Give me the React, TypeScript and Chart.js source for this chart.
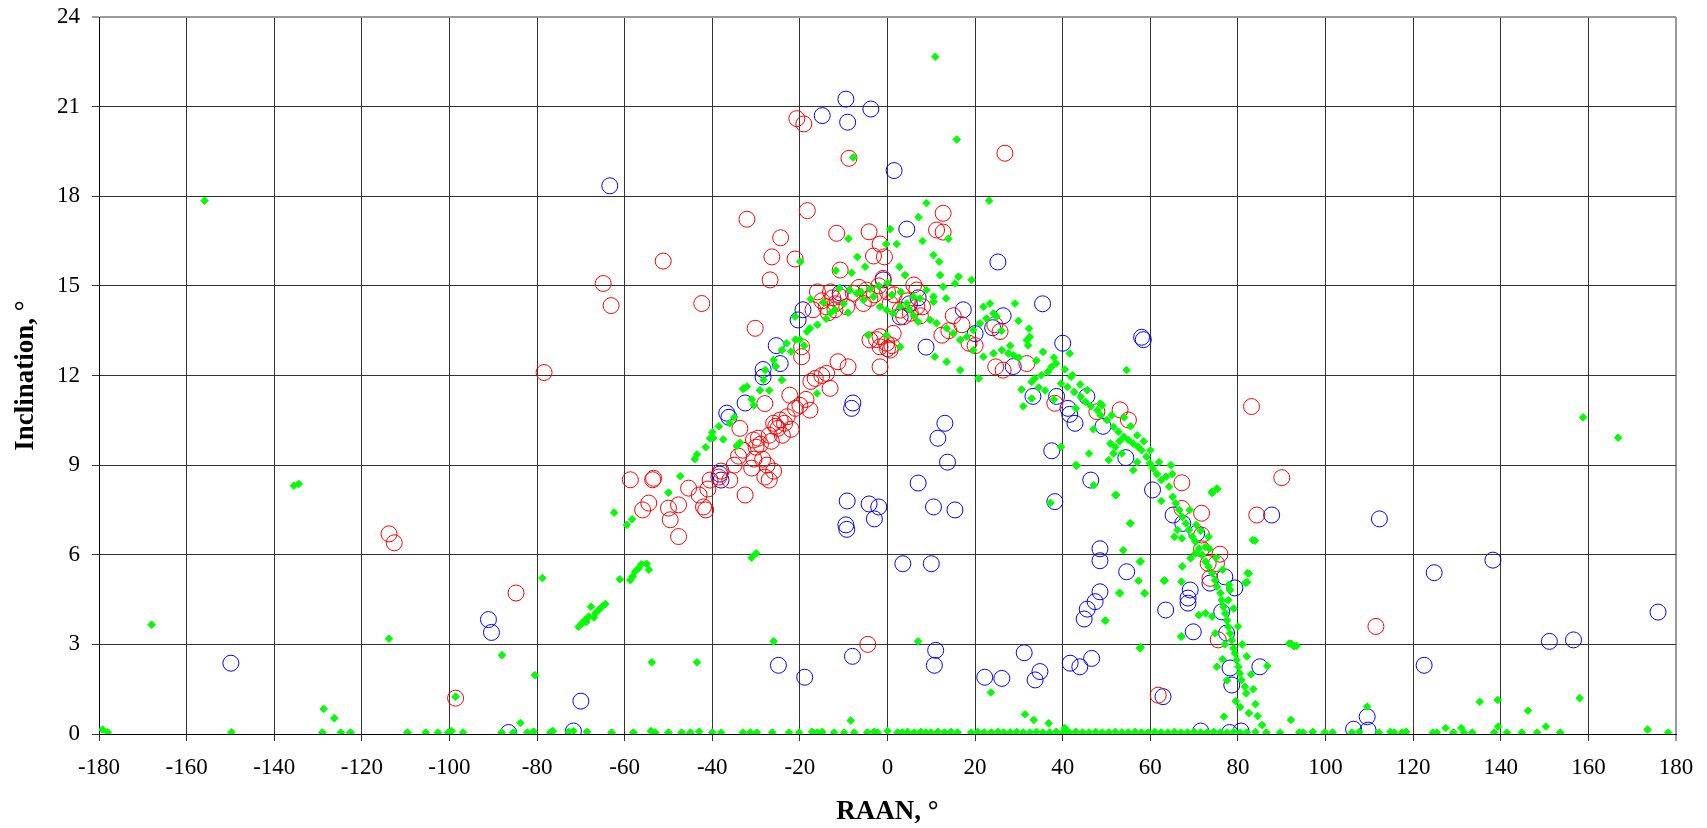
import React, { useEffect, useRef } from "react";
import { Chart, registerables } from "chart.js";

Chart.register(...registerables);

const xTickValues = [-180, -160, -140, -120, -100, -80, -60, -40, -20, 0, 20, 40, 60, 80, 100, 120, 140, 160, 180];
const yTickValues = [0, 3, 6, 9, 12, 15, 18, 21, 24];
const xTitle = "RAAN, °";
const yTitle = "Inclination, °";

const bluePoints: [number, number][] = [
  [-149.9, 2.37], [-91.1, 3.83], [-90.4, 3.4], [-86.5, 0.05], [-71.7, 0.1], [-70, 1.1], [-63.4, 18.35],
  [-36.7, 10.74], [-36.2, 10.6], [-32.5, 11.08], [-28.4, 12.2], [-28.4, 11.95], [-25.4, 13.0], [-24.5, 12.4],
  [-20.4, 13.86], [-19.3, 14.2], [-10.8, 14.76], [-7.9, 11.08], [-8.2, 10.9], [-38.3, 8.7], [-38, 8.5],
  [-9.5, 21.25], [-3.8, 20.92], [-14.9, 20.7], [-9.1, 20.48], [1.5, 18.86], [4.4, 16.9], [25.2, 15.8],
  [2.9, 13.96], [8.8, 12.95], [17.3, 14.2], [-1, 15.2], [5, 14.4], [7, 14.6], [20, 13.4], [26.4, 14.0], [24, 13.6],
  [13.1, 10.4], [11.5, 9.9], [13.7, 9.1], [7, 8.4], [10.5, 7.6], [15.4, 7.5], [-4.2, 7.7], [-2, 7.6], [-3, 7.2],
  [-9.2, 7.8], [-9.5, 7.0], [-9.3, 6.85], [3.5, 5.7], [10, 5.7], [11, 2.8], [10.7, 2.3], [-8, 2.6], [-18.9, 1.9],
  [-24.9, 2.3], [35.4, 14.4], [40, 13.08], [58, 13.28], [58.4, 13.2], [28.7, 12.3], [33.2, 11.3], [38.6, 11.3],
  [41.2, 10.9], [41.6, 10.7], [42.8, 10.4], [45.5, 11.3], [49.2, 10.3], [37.5, 9.48], [54.4, 9.25], [46.4, 8.5],
  [38.2, 7.78], [60.5, 8.17], [65.2, 7.33], [67.4, 7.05], [70.6, 6.72], [48.5, 6.2], [48.5, 5.8], [54.6, 5.43],
  [48.5, 4.76], [47.4, 4.43], [45.6, 4.18], [44.9, 3.85], [63.5, 4.15], [69.8, 3.42], [69.1, 4.82], [68.6, 4.55],
  [68.6, 4.38], [73.6, 5.05], [77, 5.26], [79.3, 4.89], [76.3, 4.09], [77.4, 3.38], [78.2, 2.21], [78.6, 1.64],
  [85, 2.25], [87.7, 7.33], [31.2, 2.72], [34.8, 2.09], [33.7, 1.81], [41.7, 2.37], [43.9, 2.25], [46.6, 2.53],
  [26.1, 1.86], [22.2, 1.9], [62.9, 1.25], [71.5, 0.1], [78.1, 0.05], [80.7, 0.1], [106.4, 0.16], [109.5, 0.58],
  [109.7, 0.13], [112.3, 7.2], [122.5, 2.3], [124.8, 5.4], [138.2, 5.82], [151.1, 3.1], [156.6, 3.15], [175.9, 4.08],
];

const redPoints: [number, number][] = [
  [-113.8, 6.7], [-112.6, 6.4], [-98.6, 1.2], [-84.8, 4.72], [-78.4, 12.1], [-64.9, 15.08], [-63.1, 14.34],
  [-51.2, 15.83], [-42.4, 14.41], [-32.1, 17.23], [-24.4, 16.61], [-26.4, 15.97], [-26.8, 15.2], [-21.1, 15.9],
  [-18.3, 17.52], [-11.6, 16.76], [-4.2, 16.81], [-1.7, 16.4], [-3.2, 16.0], [-0.7, 15.97], [-10.8, 15.53],
  [6, 15.03], [11.2, 16.87], [12.7, 16.8], [12.7, 17.43], [-8.8, 19.27], [-20.7, 20.6], [-19.1, 20.42], [26.8, 19.44],
  [-15, 14.5], [-14, 14.3], [-13, 14.8], [-12, 14.2], [-11.9, 14.4], [-10.8, 14.64], [-9.3, 14.3], [-7.8, 14.75],
  [-6.5, 14.95], [-5.5, 14.41], [-4.8, 14.86], [-4, 14.58], [-3, 14.7], [-2, 15.0], [-1, 15.25], [0, 14.8],
  [0.6, 14.41], [1.5, 14.7], [2.9, 14.19], [3.7, 13.97], [4.5, 14.5], [5.2, 14.08], [6.7, 14.3], [6.7, 14.86],
  [7.5, 14.0], [-1.7, 13.3], [-0.2, 13.08], [0.6, 12.85], [-1.7, 12.96], [1.3, 13.41], [-4, 13.19], [-2.5, 13.2],
  [0, 12.9], [1, 13.0], [-13.5, 14.1], [-12.5, 14.6],
  [-30.2, 13.58], [-19.6, 12.63], [-19.6, 12.96], [-11.3, 12.46], [-9, 12.29], [-1.7, 12.29], [-16.5, 11.9],
  [-13.9, 12.07], [-13.1, 11.57], [-22.3, 11.34], [-28, 11.06], [-17.7, 10.84], [-25, 10.23], [-24.5, 10.51],
  [-26, 10.4], [-22.9, 10.62], [-30.6, 9.84], [-33.7, 10.23], [-20, 11.0], [-18.6, 11.2], [-17.5, 11.8], [-15, 12.0],
  [-21, 10.9], [-22, 10.2], [-23.5, 10.4], [-24, 10.0], [-25.5, 10.3], [-26.5, 9.8], [-27, 10.0], [-27.5, 9.0],
  [-28, 8.6], [-28.5, 9.2], [-29, 9.7], [-29.5, 9.9], [-30, 9.6], [-30.5, 9.2], [-31, 8.9], [-32.5, 8.0],
  [-33, 9.5], [-34, 9.3], [-35, 9.0], [-36, 8.5], [-38, 8.8], [-38.5, 8.6], [-40.5, 8.5], [-41, 8.2], [-41.5, 7.5],
  [-42, 7.6], [-43, 8.0], [-45.4, 8.23], [-47.7, 7.67], [-47.7, 6.61], [-49.6, 7.17], [-50, 7.56], [-54.5, 7.73],
  [-55.9, 7.5], [-53.6, 8.51], [-53.4, 8.56], [-58.7, 8.51], [-26, 8.8], [-27, 8.5],
  [12.4, 13.35], [18.6, 13.08], [24.7, 12.29], [25.7, 13.47], [24.5, 13.7], [26.4, 12.18], [31.8, 12.4],
  [38.2, 11.07], [47.8, 10.79], [53.1, 10.85], [55, 10.51], [83.1, 10.96], [90, 8.58], [84.3, 7.33], [67.2, 8.41],
  [67.2, 7.55], [71.7, 7.39], [71.7, 6.66], [75.9, 6.02], [71.7, 6.2], [73.2, 5.71], [75.1, 5.71], [73.6, 5.21],
  [75.5, 3.15], [61.8, 1.3], [111.5, 3.6], [-4.5, 3.0], [15, 14.0], [17, 13.7], [14, 13.5], [20, 13.0], [8, 14.3],
  [-16, 14.8], [-17, 14.2],
];

const greenPoints: [number, number][] = [
  [-179.2, 0.15], [-178, 0.06], [-168, 3.66], [-155.9, 17.85], [-149.8, 0.06], [-135.5, 8.31], [-134.4, 8.37],
  [-128.7, 0.84], [-126.3, 0.53], [-129, 0.05], [-124.8, 0.05], [-122.6, 0.05], [-113.8, 3.19], [-109.6, 0.05],
  [-105.4, 0.05], [-102.6, 0.05], [-100.3, 0.05], [-99.5, 0.1], [-98.6, 1.25], [-96.9, 0.05], [-88, 2.64],
  [-88.1, 0.05], [-85.4, 0.05], [-83.8, 0.37], [-82.2, 0.05], [-80.8, 0.08], [-80.5, 1.97], [-78.8, 5.22],
  [-77, 0.05], [-76.4, 0.1], [-72.8, 0.07], [-71.7, 0.1], [-68.6, 0.07],
  [-70.5, 3.59], [-69.8, 3.7], [-69, 3.82], [-68.2, 3.93], [-67.7, 4.26], [-66.7, 4.04], [-65.9, 4.15],
  [-65.2, 4.26], [-64.4, 4.35], [-67, 3.9], [-68.8, 3.75], [-61.1, 5.18], [-58.7, 5.15], [-58.2, 5.27],
  [-57.6, 5.44], [-56.8, 5.55], [-56.2, 5.68], [-62.4, 7.41], [-59.5, 7.0], [-58.3, 7.19], [-53.8, 2.4],
  [-50, 8.08], [-47.3, 8.63], [-43.5, 9.36], [-43.5, 2.4],
  [-41.5, 9.6], [-40.5, 9.9], [-39.8, 9.91], [-37.5, 9.86], [-36, 10.4], [-34.4, 9.64], [-33.7, 9.75],
  [-33, 11.55], [-32.1, 11.63], [-32.9, 11.57], [-30.5, 11.0], [-29.1, 11.51], [-28.3, 11.85], [-27.9, 12.18],
  [-26, 12.52], [-24.1, 12.85], [-24.1, 11.85], [-23, 13.08], [-21, 13.2], [-18.4, 13.47], [-17.7, 13.58],
  [-16.1, 11.4], [-21.1, 13.97], [-17.5, 14.55], [-14.6, 14.44], [-13, 14.1], [-11, 14.92], [-8.6, 14.86],
  [-7, 14.75], [-5.5, 14.53], [-3.2, 14.64], [-1.7, 14.3], [-0.2, 14.19], [1.3, 14.08], [2.9, 14.3], [4.4, 14.41],
  [5.9, 14.64], [7.4, 14.58], [8.9, 14.86], [-31, 5.9], [-30, 6.05], [-26, 3.1], [-8.4, 0.45],
  [-7.8, 19.3], [10.9, 22.67], [15.8, 19.9], [23.2, 17.85], [8.9, 17.77], [7.1, 17.3], [0.6, 16.9], [2.1, 16.4],
  [-0.3, 16.4], [8, 16.5], [13.9, 16.58], [-8.9, 16.58], [-6.9, 15.97], [-5.1, 15.64], [-11.8, 15.51],
  [-8.2, 15.44], [10.5, 16.03], [11.8, 15.81], [12, 15.36], [16.2, 15.31], [19.2, 15.2], [15.4, 15.08], [4, 15.36],
  [2.7, 15.64], [12.7, 14.97], [10.5, 14.64], [13.4, 14.58], [10.5, 14.47], [-19.9, 15.81],
  [9.7, 13.86], [11.2, 13.75], [13.5, 13.58], [15, 13.41], [16.6, 13.19], [18.1, 13.3], [19.6, 13.52],
  [21.1, 13.75], [22.6, 13.91], [24.2, 14.08], [21.9, 14.3], [23.4, 14.41], [24.9, 13.97], [19.6, 12.85],
  [21.9, 12.63], [24.2, 12.74], [16.6, 12.18], [20.8, 11.9], [10.8, 12.63], [13.5, 12.46], [2.9, 12.96],
  [-0.2, 13.35], [-4.4, 13.35],
  [29.1, 14.41], [29.9, 13.83], [32.3, 13.57], [32.5, 13.29], [31.8, 13.18], [32.1, 13.01], [26.1, 12.85],
  [27.6, 12.74], [28.8, 12.68], [35.5, 12.79], [41.6, 12.74], [42.2, 12.01], [38.5, 12.4], [37.4, 12.29],
  [36.6, 12.12], [35.1, 12.01], [33.6, 11.9], [32.9, 11.79], [30.6, 11.53], [32.9, 11.23], [31, 10.97],
  [39.6, 11.73], [41.1, 11.62], [42.6, 11.45], [44.1, 11.29], [45.2, 11.12], [46.4, 10.97], [47.9, 10.84],
  [48.6, 10.67], [50.1, 10.51], [51.6, 10.28], [52.7, 10.12], [53.9, 9.95], [55, 9.84], [56.1, 9.72], [57.2, 9.61],
  [58, 9.5], [59.1, 9.28], [59.9, 9.06], [60.6, 8.89], [41.9, 11.96], [45.6, 11.51], [48.6, 11.06], [51.2, 10.67],
  [39.6, 9.61], [46, 9.39], [50.5, 9.17], [43, 9.0], [54.6, 12.18], [52, 9.61], [53.5, 9.39], [56.1, 8.83],
  [50.9, 9.72], [51.6, 9.39], [64.7, 9.0],
  [63.6, 8.61], [64.3, 8.28], [65.1, 7.94], [65.8, 7.72], [66.6, 7.5], [67.3, 7.27], [68.1, 7.05], [68.8, 6.83],
  [69.6, 6.6], [70.3, 6.44], [71.1, 6.21], [71.8, 5.99], [72.6, 5.77], [73.3, 5.6], [74.1, 5.38], [74.8, 5.15],
  [75.2, 4.93], [76, 4.71], [76.3, 4.48], [76.7, 4.26], [77.1, 4.04], [77.5, 3.81], [77.8, 3.59], [78.2, 3.37],
  [78.6, 3.14], [79, 2.87], [79.3, 2.7], [79.7, 2.48], [80.1, 2.25], [80.4, 2.03], [80.8, 1.81], [81.6, 1.58],
  [81.9, 1.36], [67.2, 6.55], [66.2, 6.83], [65.5, 6.6], [74.1, 8.11], [75.2, 8.22], [83.4, 6.49], [82.2, 5.38],
  [81.7, 5.06], [73.3, 6.6], [72.6, 6.27], [69.2, 5.88], [70.3, 6.04], [71.1, 3.98], [72.6, 4.04], [67, 3.26],
  [78.2, 4.82], [77.8, 4.48], [74.1, 3.93], [74.8, 3.37], [75.2, 2.25], [86.7, 2.28], [91.7, 3.03], [92.8, 2.94],
  [57.6, 2.87], [67.1, 5.1], [63.1, 5.13], [58.7, 4.71], [57.6, 5.77], [55.4, 7.05], [52.2, 8.0], [49.7, 3.79],
  [53.1, 4.71], [47.1, 8.33], [43.2, 8.98], [37.2, 7.74],
  [61.5, 8.7], [62.5, 8.5], [62, 9.1], [58.5, 9.8], [57, 10.0], [55.5, 10.3], [54, 10.6], [49, 11.0], [44, 11.7],
  [40.5, 12.2], [38, 12.6], [34, 12.5], [30, 12.6], [28, 13.0], [26, 13.5], [36, 11.5], [38, 11.2], [34.5, 11.6],
  [43, 10.9], [47, 10.2], [53, 9.8], [60, 9.5], [57, 9.1], [62.5, 7.8], [65, 8.7], [69, 7.5], [70.5, 7.0],
  [71.5, 6.8], [73.5, 6.2], [75, 5.9], [76.5, 5.5], [78, 5.0], [79, 4.2], [80, 3.6], [81, 3.0], [82, 2.6],
  [83, 2.0], [83.5, 1.5], [84, 1.0], [82.5, 0.7], [84.5, 0.6], [85.5, 0.3], [80.5, 0.9], [79.5, 1.1], [77.5, 1.8],
  [76.5, 2.5], [77, 3.0],
  [-55, 5.7], [-54.5, 5.5], [-44, 9.2], [-40, 10.1], [-38.5, 10.3], [-35, 10.6], [-31, 11.2], [-27, 11.5],
  [-25.5, 12.3], [-22, 12.8], [-20, 13.2], [-19, 13.0], [-16, 13.7], [-14, 13.9], [-12, 14.2], [-10, 14.4],
  [-9, 14.1], [-6, 14.8], [-4, 14.9], [-2, 15.0], [0, 15.1], [1, 14.7], [3, 14.8], [5, 14.2], [6, 14.0], [7, 13.8],
  [7, 3.1], [23.6, 1.39], [31.4, 0.66], [33.4, 0.47], [36.8, 0.36], [40.5, 0.2],
  [76.8, 0.58], [75.3, 8.2], [74.1, 8.07], [83.9, 6.47], [82.5, 5.37], [82.1, 5.08], [52, 8.0], [55.4, 7.05],
  [53.8, 6.15], [57.8, 5.78], [57.3, 5.13], [52.9, 4.72], [58.7, 4.72], [49.7, 3.8], [63.3, 5.14], [67.3, 5.61],
  [57.8, 2.9], [67.1, 3.27], [93.4, 2.95], [92.1, 3.02],
  [-63, 0.05], [-58, 0.05], [-54, 0.1], [-53, 0.05], [-50, 0.05], [-47, 0.05], [-45, 0.05], [-43, 0.08],
  [-40, 0.05], [-38, 0.05], [-33, 0.05], [-31.3, 0.05], [-29.8, 0.05], [-26.3, 0.05], [-22.5, 0.05],
  [-20.2, 0.05], [-17.2, 0.07], [-16, 0.05], [-14.9, 0.07], [-12.2, 0.05], [-9.9, 0.05], [-7.6, 0.05],
  [-4.6, 0.05], [-3.1, 0.07], [-2.3, 0.05], [0, 0.1], [2.3, 0.05], [3.4, 0.05], [4.6, 0.07], [6.1, 0.05],
  [7.6, 0.07], [8.8, 0.05], [9.9, 0.05], [11.5, 0.07], [13, 0.05], [14.5, 0.07], [16, 0.05], [19.1, 0.05],
  [20.6, 0.07], [22.1, 0.05], [23.7, 0.05], [25.2, 0.07], [26.5, 0.05], [28, 0.05], [29.5, 0.07], [31, 0.05],
  [32.5, 0.05], [34, 0.07], [35.5, 0.05], [37, 0.05], [38.5, 0.07], [40, 0.05], [41.5, 0.05], [43, 0.07],
  [44.5, 0.05], [46, 0.05], [47.5, 0.07], [49, 0.05], [50.5, 0.05], [52, 0.07], [53.5, 0.05], [55, 0.05],
  [56.5, 0.07], [58, 0.05], [59.5, 0.05], [61, 0.07], [62.5, 0.05], [64, 0.05], [65.5, 0.07], [67, 0.05],
  [68.5, 0.05], [70, 0.07], [71.5, 0.05], [73, 0.05], [74.5, 0.07], [76, 0.05], [77.5, 0.05], [79, 0.07],
  [80.5, 0.05], [82, 0.05], [84, 0.07], [86.5, 0.05], [89.6, 0.05], [92.1, 0.47], [94, 0.05], [94.9, 0.05],
  [97.1, 0.07], [99.8, 0.05], [101.6, 0.05], [106, 0.05], [107.7, 0.07], [109.5, 0.92], [112.2, 0.05],
  [114.8, 0.07], [115.7, 0.05], [117.5, 0.05], [118.4, 0.07], [124.5, 0.05], [125.4, 0.05], [127.4, 0.2],
  [129.2, 0.05], [131, 0.2], [131.6, 0.05], [133.5, 0.05], [135.2, 1.08], [138.5, 0.05], [139.3, 1.14],
  [139.4, 0.25], [141.4, 0.05], [144.8, 0.05], [146.2, 0.78], [148.3, 0.05], [150.3, 0.25], [153.6, 0.05],
  [158, 1.2], [158.8, 10.6], [166.8, 9.92], [173.5, 0.15], [178.2, 0.05],
];

const toXY = (pts: [number, number][]) => pts.map(([x, y]) => ({ x, y }));

const SERIF = "'Liberation Serif', 'Times New Roman', serif";

export default function App() {
  const canvasRef = useRef<HTMLCanvasElement | null>(null);

  useEffect(() => {
    document.body.style.margin = "0";
    const canvas = canvasRef.current;
    if (!canvas) return;
    const chart = new Chart(canvas, {
      type: "scatter",
      data: {
        datasets: [
          {
            label: "green",
            data: toXY(greenPoints),
            pointStyle: "rectRot",
            pointRadius: 3.8,
            backgroundColor: "#00ff00",
            borderColor: "#00ff00",
            borderWidth: 1,
          },
          {
            label: "red",
            data: toXY(redPoints),
            pointStyle: "circle",
            pointRadius: 8,
            backgroundColor: "rgba(0,0,0,0)",
            borderColor: "#ff0000",
            borderWidth: 1,
          },
          {
            label: "blue",
            data: toXY(bluePoints),
            pointStyle: "circle",
            pointRadius: 8,
            backgroundColor: "rgba(0,0,0,0)",
            borderColor: "#0000ff",
            borderWidth: 1,
          },
        ],
      },
      options: {
        responsive: false,
        animation: false,
        events: [],
        layout: { padding: { top: 17, right: 31, left: 0, bottom: 0 } },
        plugins: { legend: { display: false }, tooltip: { enabled: false } },
        scales: {
          x: {
            type: "linear",
            min: -180,
            max: 180,
            afterBuildTicks: (scale: any) => {
              scale.ticks = xTickValues.map((v) => ({ value: v }));
            },
            ticks: {
              font: { family: SERIF, size: 23 },
              color: "#000",
              padding: 13,
              maxRotation: 0,
              autoSkip: false,
            },
            grid: {
              color: (ctx: any) => (ctx.tick && ctx.tick.value === 180 ? "#9a9a9a" : "#333333"),
              lineWidth: (ctx: any) => (ctx.tick && ctx.tick.value === 180 ? 2 : 1),
              tickLength: 7,
            },
            border: { display: true, color: "#000", width: 1 },
            title: {
              display: true,
              text: xTitle,
              font: { family: SERIF, size: 27, weight: "bold" },
              color: "#000",
              padding: { top: 0, bottom: 0 },
            },
            afterFit: (scale: any) => {
              scale.height = 94;
              scale.paddingLeft = 0;
              scale.paddingRight = 0;
            },
          },
          y: {
            type: "linear",
            min: 0,
            max: 24,
            afterBuildTicks: (scale: any) => {
              scale.ticks = yTickValues.map((v) => ({ value: v }));
            },
            ticks: {
              font: { family: SERIF, size: 23 },
              color: "#000",
              padding: 12,
              autoSkip: false,
            },
            grid: {
              color: (ctx: any) => (ctx.tick && ctx.tick.value === 24 ? "#9a9a9a" : "#333333"),
              lineWidth: (ctx: any) => (ctx.tick && ctx.tick.value === 24 ? 2 : 1),
              tickLength: 7,
            },
            border: { display: true, color: "#000", width: 1 },
            title: {
              display: true,
              text: yTitle,
              font: { family: SERIF, size: 27, weight: "bold" },
              color: "#000",
              padding: { top: 10, bottom: 0 },
            },
            afterFit: (scale: any) => {
              scale.width = 99;
              scale.paddingTop = 0;
              scale.paddingBottom = 0;
            },
          },
        },
      },
    } as any);
    return () => chart.destroy();
  }, []);

  return (
    <div style={{ position: "fixed", left: 0, top: 0, width: 1707, height: 828, background: "#fff" }}>
      <canvas ref={canvasRef} width={1707} height={828} style={{ display: "block" }} />
    </div>
  );
}
